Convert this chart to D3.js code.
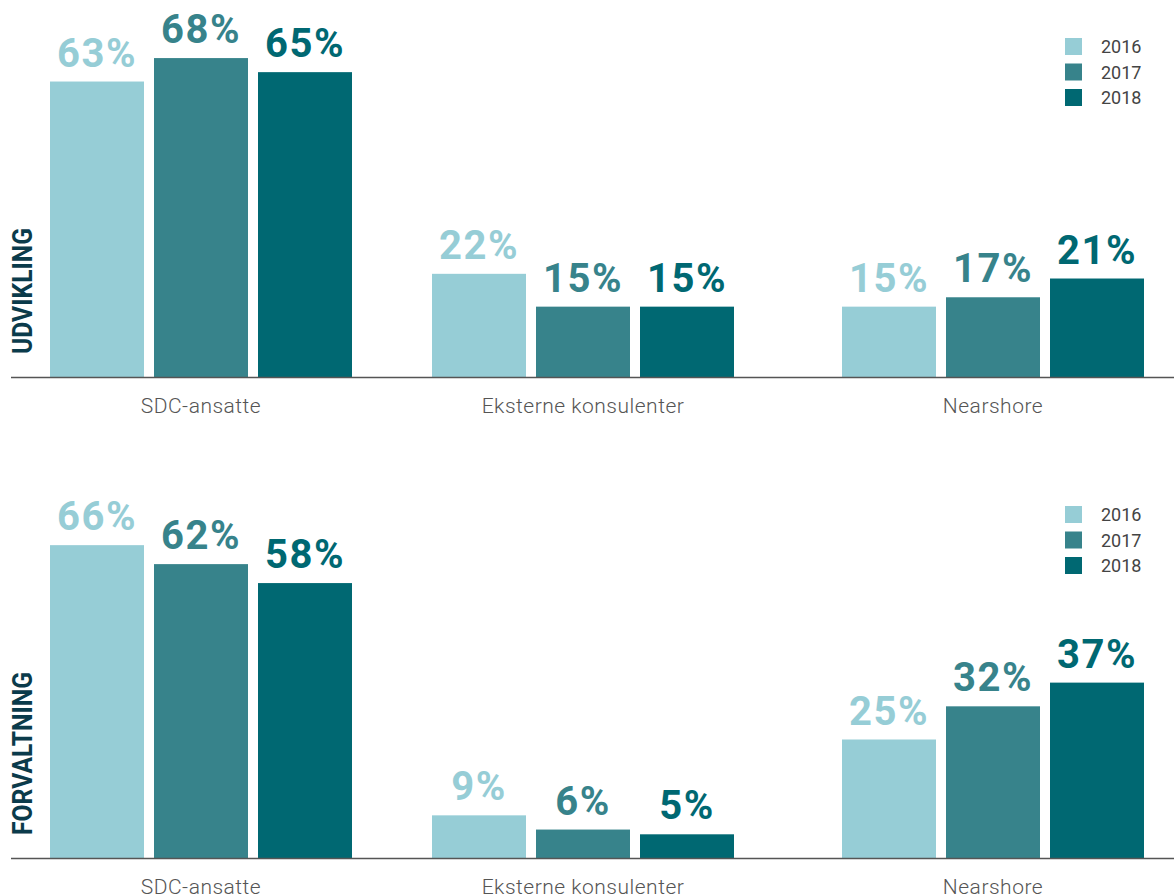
<!DOCTYPE html>
<html>
<head>
<meta charset="utf-8">
<script src="https://cdn.jsdelivr.net/npm/d3@7"></script>
<style>
  body { margin: 0; background: #fff; }
  svg { display: block; font-family: Roboto, "Noto Sans", sans-serif; }
</style>
</head>
<body>
<svg id="chart" width="1174" height="896"></svg>
<script>
// data
const categories = ['SDC-ansatte', 'Eksterne konsulenter', 'Nearshore'];
const years = ['2016', '2017', '2018'];
const panelTitles = ['UDVIKLING', 'FORVALTNING'];
const udvikling2016 = [63, 22, 15];
const udvikling2017 = [68, 15, 17];
const udvikling2018 = [65, 15, 21];
const forvaltning2016 = [66, 9, 25];
const forvaltning2017 = [62, 6, 32];
const forvaltning2018 = [58, 5, 37];

const colors = d3.scaleOrdinal().domain(years).range(['#96cdd6', '#37838b', '#006872']);

const panels = [
  { title: panelTitles[0], series: [udvikling2016, udvikling2017, udvikling2018], top: 0, base: 377, pxPer: 4.69, titleLen: 126 },
  { title: panelTitles[1], series: [forvaltning2016, forvaltning2017, forvaltning2018], top: 468, base: 858, pxPer: 4.74, titleLen: 163 }
];

const svg = d3.select('#chart');

// groups are not evenly spaced in the original
const xGroup = d3.scaleOrdinal().domain(categories).range([50, 432, 842]);
const xYear = d3.scaleBand().domain(years).range([0, 302]).paddingInner(10 / 104);

panels.forEach(p => {
  const g = svg.append('g');
  const y = d3.scaleLinear().domain([0, 100]).range([p.base, p.base - 100 * p.pxPer]);

  const rows = [];
  categories.forEach((c, ci) => {
    years.forEach((yr, yi) => rows.push({ cat: c, year: yr, value: p.series[yi][ci] }));
  });

  g.selectAll('rect.bar').data(rows).join('rect')
    .attr('class', 'bar')
    .attr('x', d => xGroup(d.cat) + xYear(d.year))
    .attr('width', xYear.bandwidth())
    .attr('y', d => y(d.value))
    .attr('height', d => y(0) - y(d.value))
    .attr('fill', d => colors(d.year));

  g.selectAll('text.val').data(rows).join('text')
    .attr('class', 'val')
    .attr('x', d => xGroup(d.cat) + xYear(d.year) + xYear.bandwidth() / 2)
    .attr('y', d => y(d.value) - 15)
    .attr('text-anchor', 'middle')
    .attr('font-size', 40)
    .attr('font-weight', 700)
    .attr('letter-spacing', 1.5)
    .attr('fill', d => colors(d.year))
    .text(d => d.value + '%');

  // baseline
  g.append('line')
    .attr('x1', 11).attr('x2', 1174)
    .attr('y1', y(0) + 0.5).attr('y2', y(0) + 0.5)
    .attr('stroke', '#555').attr('stroke-width', 1.5);

  g.selectAll('text.cat').data(categories).join('text')
    .attr('class', 'cat')
    .attr('x', d => xGroup(d) + 151)
    .attr('y', y(0) + 36)
    .attr('text-anchor', 'middle')
    .attr('font-size', 21)
    .attr('font-weight', 300)
    .attr('letter-spacing', 0.5)
    .attr('fill', '#555')
    .text(d => d);

  // rotated panel title
  g.append('text')
    .attr('transform', `translate(32,${y(0) - 23}) rotate(-90)`)
    .attr('font-size', 27)
    .attr('font-weight', 700)
    .attr('fill', '#0b3b4b')
    .attr('textLength', p.titleLen)
    .attr('lengthAdjust', 'spacingAndGlyphs')
    .text(p.title);

  // legend
  const leg = g.append('g').attr('transform', `translate(1065,${p.top + 38})`);
  const li = leg.selectAll('g').data(years).join('g')
    .attr('transform', (d, i) => `translate(0,${i * 25.5})`);
  li.append('rect').attr('width', 17).attr('height', 17).attr('fill', d => colors(d));
  li.append('text').attr('x', 36).attr('y', 15)
    .attr('font-size', 18).attr('fill', '#444').text(d => d);
});
</script>
</body>
</html>
